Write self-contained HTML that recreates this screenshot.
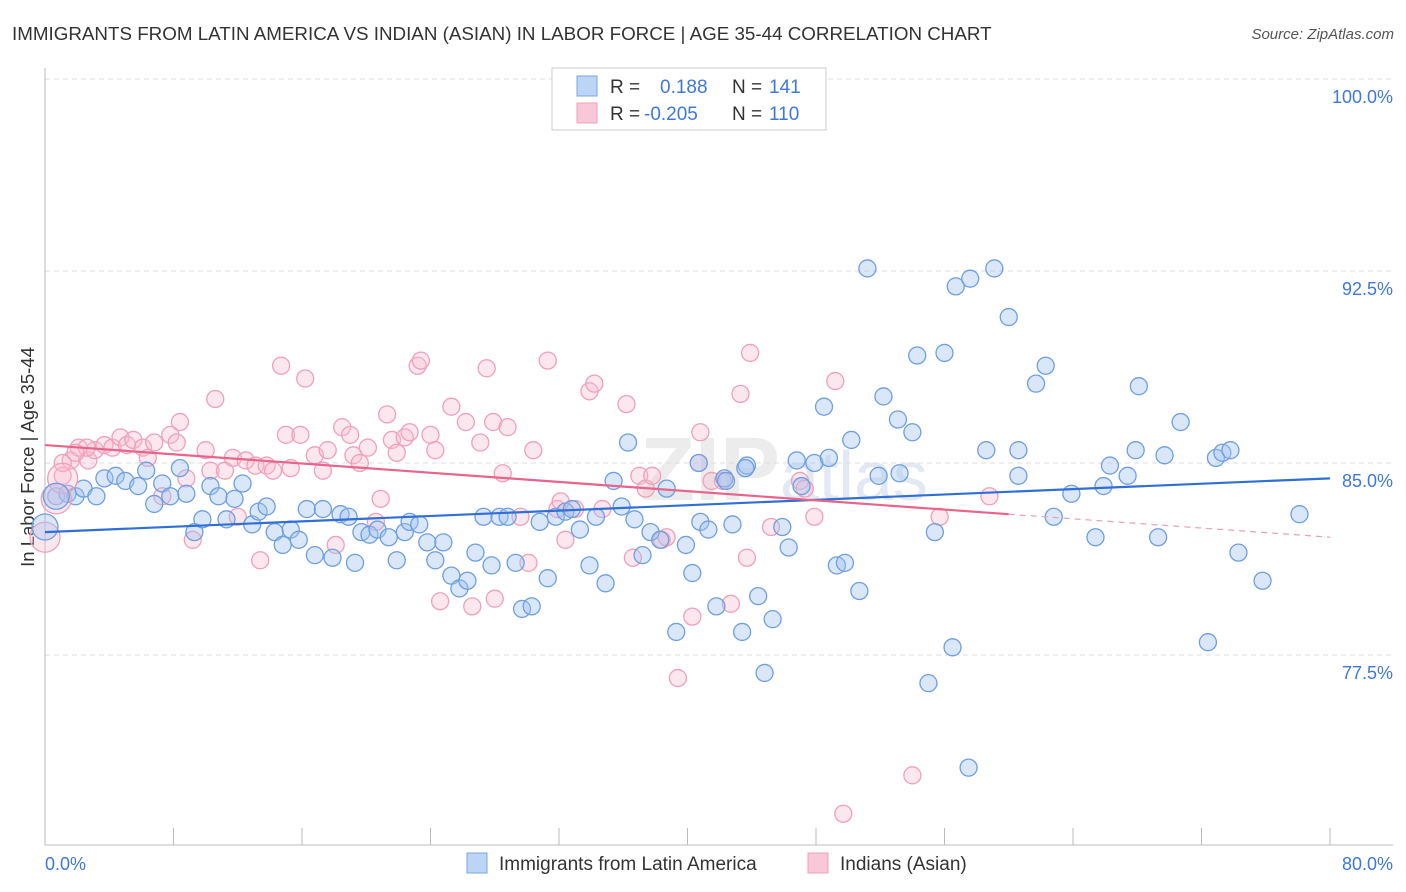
<!DOCTYPE html>
<html><head><meta charset="utf-8"><style>
body{margin:0;background:#fff;font-family:"Liberation Sans",sans-serif}
svg{display:block}
</style></head><body>
<svg id="c" width="1406" height="892">
<text x="12" y="40" font-size="18.8" fill="#333">IMMIGRANTS FROM LATIN AMERICA VS INDIAN (ASIAN) IN LABOR FORCE | AGE 35-44 CORRELATION CHART</text>
<text x="1394" y="39" font-size="15" fill="#555" font-style="italic" text-anchor="end">Source: ZipAtlas.com</text>
<text transform="translate(34,457) rotate(-90)" font-size="18.5" fill="#333" text-anchor="middle">In Labor Force | Age 35-44</text>
<text x="640" y="500" font-size="90" fill="#ececec" font-weight="bold">ZIP<tspan font-weight="normal" font-size="70" fill="#e2e9f4">atlas</tspan></text>
<g id="grid"></g><g id="pts"></g><g id="lines"></g>
<g>
<rect x="552" y="68" width="274" height="62" fill="#fff" stroke="#ccc"/>
<rect x="577" y="76" width="20" height="20" fill="#bcd4f5" stroke="#7aa6e3"/>
<rect x="577" y="103" width="20" height="20" fill="#f9c8d8" stroke="#f0a0b8"/>
<text x="610" y="93" font-size="19" fill="#333">R = <tspan x="660" fill="#3f78d8">0.188</tspan><tspan x="732" fill="#333">N = </tspan><tspan x="769" fill="#3f78d8">141</tspan></text>
<text x="610" y="120" font-size="19" fill="#333">R = <tspan x="644" fill="#3f78d8">-0.205</tspan><tspan x="732" fill="#333">N = </tspan><tspan x="769" fill="#3f78d8">110</tspan></text>
</g>
<g>
<rect x="467" y="853" width="20" height="20" fill="#bcd4f5" stroke="#7aa6e3"/>
<text x="499" y="870" font-size="19" fill="#333">Immigrants from Latin America</text>
<rect x="808" y="853" width="20" height="20" fill="#f9c8d8" stroke="#f0a0b8"/>
<text x="840" y="870" font-size="19" fill="#333">Indians (Asian)</text>
</g>
</svg>
<script>
const yTicks=[100,92.5,85,77.5];
const yTickLabels=["100.0%","92.5%","85.0%","77.5%"];
const xTickLabels=["0.0%","80.0%"];
const blueX=[0.7,1.4,1.9,2.4,3.2,3.7,4.4,5.0,5.8,6.3,6.8,7.3,7.8,8.4,8.8,9.3,9.8,10.3,10.8,11.3,11.8,12.3,12.9,13.3,13.8,14.3,14.8,15.3,15.8,16.3,16.8,17.3,17.9,18.4,18.9,19.3,19.7,20.2,20.7,21.4,21.9,22.4,22.7,23.3,23.8,24.3,24.8,25.3,25.8,26.3,26.8,27.3,27.8,28.3,28.8,29.3,29.7,30.3,30.8,31.3,31.8,32.4,32.8,33.3,33.9,34.3,34.9,35.4,35.9,36.3,36.7,37.2,37.7,38.3,38.7,39.3,39.9,40.3,40.8,41.3,41.8,42.3,42.8,43.4,43.7,44.4,44.8,45.3,45.9,46.3,46.8,47.1,47.9,48.5,48.8,49.3,49.8,50.2,50.7,51.2,51.9,52.2,53.1,53.2,54.0,54.3,55.0,55.4,56.0,56.5,56.7,57.6,58.6,59.1,60.0,60.6,60.6,61.7,62.3,62.8,63.9,65.4,65.9,66.3,67.4,67.9,68.1,69.3,69.7,70.7,72.4,72.9,73.3,73.8,74.3,75.8,78.1,57.5,40.7,42.4,43.6];
const blueY=[83.7,83.8,83.7,84.0,83.7,84.4,84.5,84.3,84.1,84.7,83.4,84.2,83.7,84.8,83.8,82.3,82.8,84.1,83.7,82.8,83.6,84.2,82.6,83.1,83.3,82.3,81.8,82.4,82.0,83.2,81.4,83.2,81.3,83.0,82.9,81.1,82.3,82.2,82.4,82.1,81.2,82.3,82.7,82.6,81.9,81.2,81.9,80.6,80.1,80.4,81.5,82.9,81.0,82.9,82.9,81.1,79.3,79.4,82.7,80.5,82.9,83.1,83.2,82.4,81.0,82.9,80.3,84.3,83.3,85.8,82.8,81.4,82.3,82.0,84.0,78.4,81.8,80.7,82.7,82.4,79.4,84.4,82.6,78.4,84.9,79.8,76.8,78.9,82.5,81.7,85.1,84.1,85.0,87.2,85.2,81.0,81.1,85.9,80.0,92.6,84.5,87.6,86.7,84.6,86.2,89.2,76.4,82.3,89.3,77.8,91.9,92.2,85.5,92.6,90.7,85.5,84.5,88.1,88.8,82.9,83.8,82.1,84.1,84.9,84.5,85.5,88.0,82.1,85.3,86.6,78.0,85.2,85.4,85.5,81.5,80.4,83.0,73.1,85.0,84.3,84.8];
const pinkX=[1.1,1.6,2.1,2.7,3.1,3.7,4.2,4.7,5.1,5.5,6.1,6.4,6.8,7.3,7.8,8.2,8.4,8.8,9.2,10.0,10.3,10.6,11.2,11.7,12.0,12.5,13.1,13.4,13.8,14.2,14.7,15.0,15.3,15.9,16.2,16.8,17.3,17.6,18.1,18.5,19.0,19.2,19.6,20.1,20.6,20.9,21.3,21.6,21.9,22.4,22.7,23.2,23.4,24.0,24.3,24.6,25.3,26.2,26.6,27.1,27.5,27.9,28.0,28.5,28.8,29.6,30.1,30.4,31.3,31.9,32.1,32.4,33.0,33.9,34.2,34.7,36.2,36.6,37.0,37.4,37.8,38.4,38.7,39.4,40.3,40.8,40.7,41.5,42.2,42.7,43.3,43.7,43.9,45.2,47.0,47.3,47.9,49.2,54.0,49.7,55.7,58.8,1.1,2.6,1.9];
const pinkY=[84.5,85.1,85.6,85.1,85.5,85.7,85.6,86.0,85.7,85.9,85.6,85.2,85.8,83.7,86.1,85.8,86.6,84.4,82.0,85.5,84.7,87.5,84.7,85.2,82.9,85.1,84.9,81.2,84.9,84.7,88.8,86.1,84.8,86.1,88.3,85.3,84.7,85.5,81.8,86.4,86.1,85.3,85.0,85.6,82.7,83.6,86.9,85.9,85.4,86.0,86.2,88.8,89.0,86.1,85.5,79.6,87.2,86.6,79.4,85.8,88.7,86.6,79.7,84.6,86.4,82.9,81.1,85.5,89.0,83.2,83.5,82.0,83.2,87.8,88.1,83.2,87.3,81.3,84.5,84.0,84.5,82.0,82.1,76.6,79.0,86.2,85.0,84.3,84.3,79.5,87.7,81.3,89.3,82.5,84.3,84.0,82.9,88.2,72.8,71.3,82.9,83.7,85.0,85.6,85.4];
const bigBlue=[[0.0,82.5],[0.7,83.7]];
const bigPink=[[0.0,82.1],[0.7,83.6],[1.1,84.4]];
const blueTrend=[[0,82.3],[80,84.4]];
const pinkTrend=[[0,85.7],[60,83.0]];
const pinkTrendExt=[[60,83.0],[80,82.1]];

const NS="http://www.w3.org/2000/svg";
const X=v=>45+v*(1285/80);
const Y=v=>463-(v-85)*25.6;
function mk(tag,attrs,parent){const e=document.createElementNS(NS,tag);for(const k in attrs)e.setAttribute(k,attrs[k]);parent.appendChild(e);return e;}
const grid=document.getElementById('grid'),pts=document.getElementById('pts'),lines=document.getElementById('lines');
yTicks.forEach((t,i)=>{
  const l=mk('line',{x1:45,x2:1393,y1:Y(t),y2:Y(t),stroke:'#ddd','stroke-dasharray':'5,4'},grid);
  
  
  const tx=mk('text',{x:1393,y:Y(t)+24,'font-size':18,fill:'#3f78d8','text-anchor':'end'},grid);
  tx.textContent=yTickLabels[i];
  
  
});
const ax=mk('line',{x1:45,x2:45,y1:68,y2:845,stroke:'#bbb'},grid);


const bx=mk('line',{x1:45,x2:1393,y1:845,y2:845,stroke:'#bbb'},grid);


for(let i=0;i<=10;i++){
  const t=mk('line',{x1:X(i*8),x2:X(i*8),y1:828,y2:845,stroke:'#bbb'},grid);
  
  
}
[[0,'start',45],[80,'end',1393]].forEach((a,i)=>{
  const t=mk('text',{x:a[2],y:870,'font-size':18,fill:'#3f78d8','text-anchor':a[1]},grid);
  t.textContent=xTickLabels[i];
  
  
});
function dot(x,y,r,kind){
  const blue=kind==='blue';
  const c=mk('circle',{cx:X(x),cy:Y(y),r:r,fill:blue?'rgba(160,195,240,0.4)':'rgba(248,185,208,0.35)',stroke:blue?'#6f9fe0':'#f0a0b8','stroke-width':1.3},pts);
  
  
}
pinkX.forEach((x,i)=>dot(x,pinkY[i],8.5,'pink'));
blueX.forEach((x,i)=>dot(x,blueY[i],8.5,'blue'));
bigPink.forEach(p=>dot(p[0],p[1],15,'pink'));
bigBlue.forEach(p=>dot(p[0],p[1],13,'blue'));
function ln(p,color,dash,name){
  const l=mk('line',{x1:X(p[0][0]),y1:Y(p[0][1]),x2:X(p[1][0]),y2:Y(p[1][1]),stroke:color,'stroke-width':dash?1.2:2.2},lines);
  if(dash)l.setAttribute('stroke-dasharray','6,5');
  
  
}
ln(blueTrend,'#2f6fd6',false,'latin-america-trendline');
ln(pinkTrend,'#e8648c',false,'indian-asian-trendline');
ln(pinkTrendExt,'#e8a0b5',true,'indian-asian-trendline-extension');
</script>
</body></html>
